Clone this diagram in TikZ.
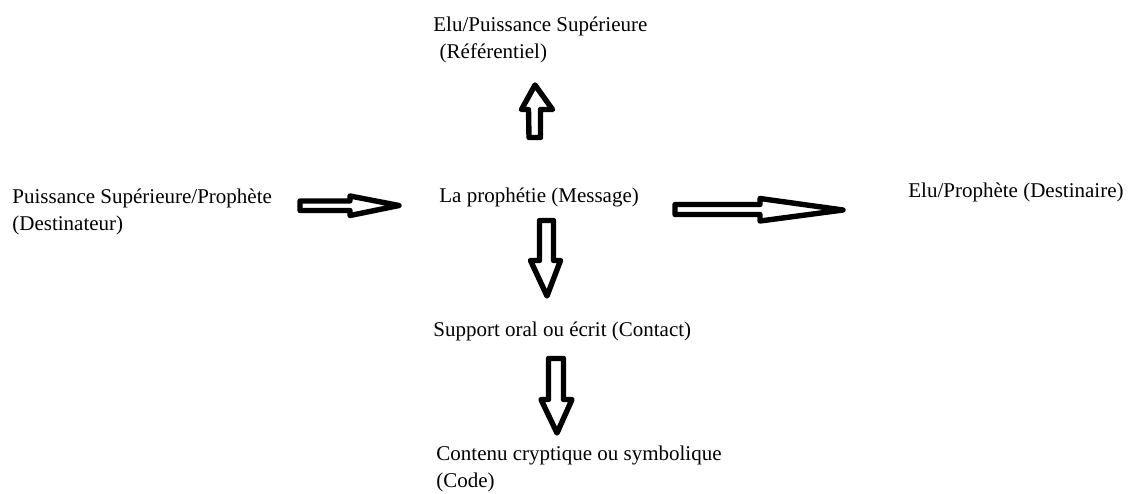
\documentclass[tikz,border=0pt]{standalone}
\usepackage{fontspec}
\setmainfont{Liberation Serif}
\begin{document}
\begin{tikzpicture}[x=0.5pt,y=-0.5pt,
  lbl/.style={anchor=base west,inner sep=0pt,align=left,font=\fontsize{10.5}{13.5}\selectfont},
  blockarrow/.style={draw=black,fill=white,line width=2.7pt,line join=round}]
\useasboundingbox[fill=white] (0,0) rectangle (1130,493);
% texts (base anchor = baseline of last line)
\node[lbl] (ref) at (433,58) {Elu/Puissance Supérieure\\\hspace*{0.3em}(Référentiel)};
\node[lbl] (dest) at (12,230) {Puissance Supérieure/Prophète\\(Destinateur)};
\node[lbl] (msg) at (439,202) {La prophétie (Message)};
\node[lbl] (dst) at (908,197) {Elu/Prophète (Destinaire)};
\node[lbl] (cont) at (433,336) {Support oral ou écrit (Contact)};
\node[lbl] (code) at (436,487) {Contenu cryptique ou symbolique\\(Code)};
% block arrows
\draw[blockarrow] (300,201)--(350,201)--(350,196)--(399,205.5)--(350,215.5)--(350,210.5)--(300,210.5)--cycle;
\draw[blockarrow] (675,204.5)--(760,204.5)--(760,198.5)--(843,210)--(760,221)--(760,214.5)--(675,214.5)--cycle;
\draw[blockarrow] (529,137.5)--(540.5,137.5)--(540.5,109.5)--(552.5,109.5)--(535,85)--(521.5,109.5)--(528.5,109.5)--cycle;
\draw[blockarrow] (539.5,220.5)--(553.5,220.5)--(553.5,260.5)--(560.5,260.5)--(547,296)--(530.5,260.5)--(539.5,260.5)--cycle;
\draw[blockarrow] (548.5,358.5)--(563.5,358.5)--(563.5,399.5)--(572,399.5)--(557,433)--(541,399.5)--(548.5,399.5)--cycle;
\end{tikzpicture}
\end{document}
